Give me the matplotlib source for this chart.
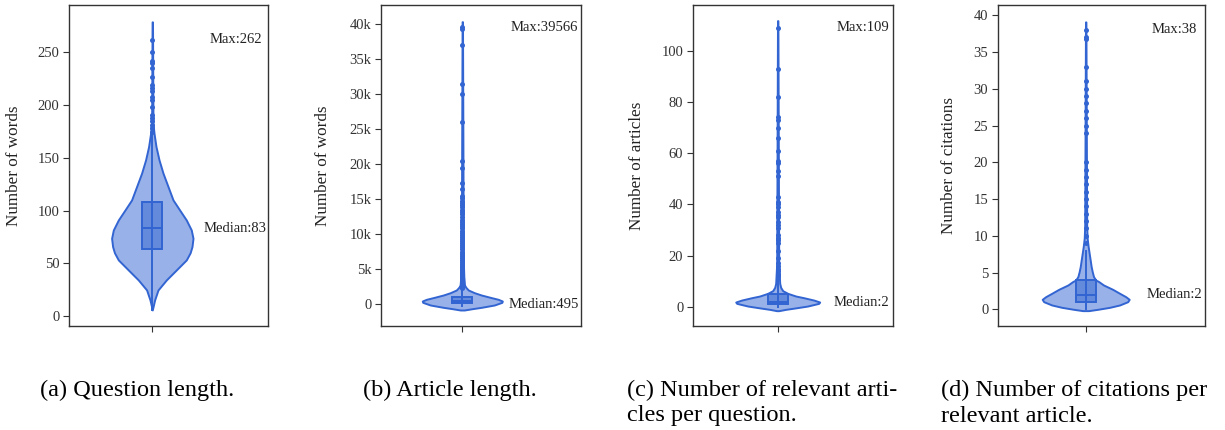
import numpy as np
import matplotlib
matplotlib.use("Agg")
import matplotlib.pyplot as plt
from matplotlib.patches import Rectangle

plt.rcParams['font.family'] = ['Liberation Serif', 'DejaVu Serif']

# ---- data ----
# (a) question length
a_kde_y = [5.7, 15.2, 24.7, 34.2, 43.7, 53.2, 60, 65.8, 73.7, 81.6, 91.1, 100.6,
           110.1, 122.8, 135.5, 148.1, 160.7, 173.4, 182.9, 279]
a_kde_w = [0.0, 0.057, 0.14, 0.344, 0.59, 0.835, 0.93, 0.975, 1.0, 0.958, 0.835, 0.671,
           0.509, 0.386, 0.263, 0.165, 0.091, 0.042, 0.017, 0.005]
a_box = [64, 83, 108]          # q1, median, q3
a_whisker = [6, 173]
a_outliers = [262, 250, 242, 240, 235, 227, 219, 216, 213, 208, 205, 198,
              191, 188, 184.5, 181, 178, 175]
a_max, a_median = 262, 83

# (b) article length
b_kde_y = [-858, -668, -477, -143, 238, 429, 667, 953, 1287, 1621, 2002, 2384,
           2718, 3910, 6293, 40375]
b_kde_w = [0.05, 0.25, 0.475, 0.8, 0.99, 1.0, 0.9, 0.7, 0.475, 0.3, 0.15, 0.088,
           0.055, 0.038, 0.025, 0.005]
b_box = [150, 495, 1000]
b_whisker = [-300, 2300]
b_outliers = [39566, 39400, 37100, 31500, 30100, 26000, 20450, 19500, 17250, 16400,
              15400, 15100, 14800, 14500, 14200, 13900, 13500, 13200, 12900, 12500,
              12000, 11700, 11400, 11100, 10800, 10500, 10200, 9900, 9600, 9300,
              9000, 8700, 8400, 8100, 7800, 7500, 7200, 6900, 6600, 6300, 6000,
              5750, 5500, 5250, 5000, 4800, 4600, 4400, 4200, 4000, 3800, 3600,
              3400, 3250, 3100, 2950, 2800, 2650, 2500, 2400, 2300]
b_max, b_median = 39566, 495

# (c) relevant articles per question
c_kde_y = [-1.43, -0.91, -0.39, 0.39, 1.43, 1.95, 2.73, 3.64, 4.29, 5.33, 6.37,
           7.67, 9.23, 13.1, 17.0, 111.7]
c_kde_w = [0.024, 0.19, 0.405, 0.714, 0.976, 1.0, 0.857, 0.62, 0.43, 0.24, 0.12,
           0.071, 0.048, 0.036, 0.024, 0.005]
c_box = [1, 2, 5]
c_whisker = [0, 11]
c_outliers = [109, 93, 82, 74, 73, 70, 66, 61, 57, 56, 53, 51, 43, 41, 40, 39, 37,
              36, 35, 33, 32, 31, 28, 27, 26, 25, 22, 19, 17, 16, 15, 14, 13, 12]
c_max, c_median = 109, 2

# (d) citations per relevant article
d_kde_y = [-0.18, 0.0, 0.27, 0.59, 1.04, 1.36, 1.72, 2.18, 2.72, 3.31, 3.77, 3.99,
           4.45, 5.13, 5.81, 6.72, 7.62, 8.53, 9.66, 11.25, 39.1]
d_kde_w = [0.07, 0.276, 0.55, 0.78, 0.966, 1.0, 0.92, 0.78, 0.62, 0.41, 0.3, 0.23,
           0.18, 0.15, 0.126, 0.103, 0.08, 0.057, 0.034, 0.023, 0.005]
d_box = [1, 2, 4]
d_whisker = [0, 8]
d_outliers = [9, 10, 11, 12, 13, 14, 15, 16, 17, 18, 19, 20, 24, 25, 26, 27, 28,
              29, 30, 31, 33, 36.8, 37, 38]
d_max, d_median = 38, 2

y_labels = ["Number of words", "Number of words", "Number of articles",
            "Number of citations"]
y_ticks = [[0, 50, 100, 150, 200, 250],
           [0, 5000, 10000, 15000, 20000, 25000, 30000, 35000, 40000],
           [0, 20, 40, 60, 80, 100],
           [0, 5, 10, 15, 20, 25, 30, 35, 40]]
y_tick_labels = [None,
                 ["0", "5k", "10k", "15k", "20k", "25k", "30k", "35k", "40k"],
                 None, None]
captions = [["(a) Question length."],
            ["(b) Article length."],
            ["(c) Number of relevant arti-", "cles per question."],
            ["(d) Number of citations per", "relevant article."]]

# ---- layout (pixels of a 1225x430 canvas) ----
W, H = 1225, 430
panels = [
    dict(left=69, width=199, center=152.3, ylim=(-9.5, 295), half=40.7,
         kde=(a_kde_y, a_kde_w), box=a_box, wh=a_whisker, out=a_outliers,
         mx=a_max, md=a_median, max_x=57, med_x=51, med_y=82.6, pad=11),
    dict(left=381, width=200, center=462.3, ylim=(-3146, 42763), half=40,
         kde=(b_kde_y, b_kde_w), box=b_box, wh=b_whisker, out=b_outliers,
         mx=b_max, md=b_median, max_x=48, med_x=46, med_y=0, pad=13),
    dict(left=693, width=200, center=777.7, ylim=(-7.4, 117.8), half=42,
         kde=(c_kde_y, c_kde_w), box=c_box, wh=c_whisker, out=c_outliers,
         mx=c_max, md=c_median, max_x=59, med_x=56, med_y=1.6, pad=12),
    dict(left=998, width=207, center=1085.7, ylim=(-2.27, 41.4), half=43.5,
         kde=(d_kde_y, d_kde_w), box=d_box, wh=d_whisker, out=d_outliers,
         mx=d_max, md=d_median, max_x=66, med_x=61, med_y=1.95, pad=12),
]
caption_x = [40, 363, 627, 941]

line_c = '#3264D2'
fill_c = (0.196, 0.392, 0.824, 0.5)
frame_c = '#333333'
box_hw = 10

fig = plt.figure(figsize=(W / 100, H / 100), dpi=100)

for i, p in enumerate(panels):
    ax = fig.add_axes([p['left'] / W, (H - 326) / H, p['width'] / W, 321 / H])
    lo = p['left'] - p['center']
    ax.set_xlim(lo, lo + p['width'])
    ax.set_ylim(*p['ylim'])

    ky = np.array(p['kde'][0])
    kw = np.array(p['kde'][1]) * p['half']
    ax.fill_betweenx(ky, -kw, kw, facecolor=fill_c, edgecolor=line_c,
                     linewidth=1.4, zorder=2)
    ax.plot([0, 0], p['wh'], color=line_c, lw=1.4, zorder=3)

    q1, med, q3 = p['box']
    ax.add_patch(Rectangle((-box_hw, q1), 2 * box_hw, q3 - q1, facecolor=fill_c,
                           edgecolor=line_c, lw=1.4, zorder=4))
    ax.plot([-box_hw, box_hw], [med, med], color=line_c, lw=1.4, zorder=5)

    ax.plot(np.zeros(len(p['out'])), p['out'], 'o', ms=3.6, color=line_c,
            mew=0, zorder=6)

    ax.text(p['max_x'], p['mx'], "Max:%d" % p['mx'], fontsize=10.5,
            ha='left', va='center', color='#222222')
    ax.text(p['med_x'], p['med_y'], "Median:%d" % p['md'], fontsize=10.5,
            ha='left', va='center', color='#222222')

    ax.set_xticks([0])
    ax.set_xticklabels([])
    ax.set_yticks(y_ticks[i])
    if y_tick_labels[i] is not None:
        ax.set_yticklabels(y_tick_labels[i])
    ax.tick_params(axis='both', length=4, width=0.8, color=frame_c,
                   labelsize=10.5, labelcolor='#333333', pad=3)
    ax.set_ylabel(y_labels[i], fontsize=12.3, labelpad=p['pad'], color='#222222')
    for s in ax.spines.values():
        s.set_color(frame_c)
        s.set_linewidth(1.0)

    for j, line in enumerate(captions[i]):
        fig.text(caption_x[i] / W, 1 - (390 + 26 * j) / H, line, fontsize=17.5,
                 ha='left', va='center', color='black')

fig.savefig("out.png", dpi=100)
